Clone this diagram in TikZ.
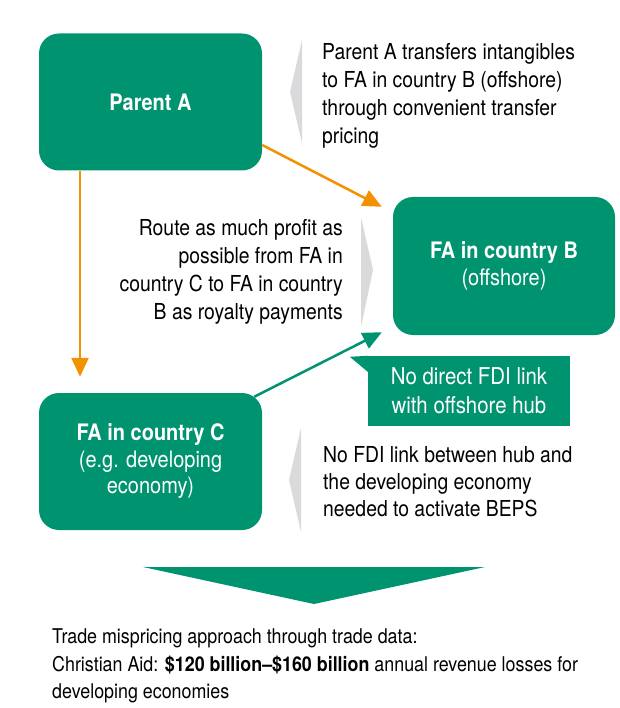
\documentclass[tikz,border=0pt]{standalone}
\usepackage{fontspec}
\setmainfont[FakeStretch=0.88]{TeX Gyre Heros}
\usetikzlibrary{arrows.meta}
\definecolor{fagreen}{RGB}{0,147,111}
\definecolor{faorange}{RGB}{243,146,0}
\definecolor{fagrey}{RGB}{218,218,220}
\begin{document}
\begin{tikzpicture}[x=1pt,y=-1pt,
  box/.style={fill=fagreen, rounded corners=20pt, text=white, align=center,
    inner sep=0pt, minimum width=223pt, minimum height=137pt,
    font=\fontsize{22.7}{26.5}\selectfont},
  callout/.style={fill=fagreen, text=white, align=center, inner sep=0pt,
    minimum width=202pt, minimum height=70pt,
    font=\fontsize{23.2}{29}\selectfont},
  txt/.style={inner sep=0pt, font=\fontsize{22}{28}\selectfont},
  bottomtxt/.style={inner sep=0pt, align=left, font=\fontsize{20.3}{27.5}\selectfont},
  orangearrow/.style={draw=faorange, line width=2.5pt,
    -{Triangle[length=19pt,width=17pt]}},
  greenarrow/.style={draw=fagreen, line width=2.5pt,
    -{Triangle[length=19pt,width=17pt]}},
  greytri/.style={fill=fagrey}]
\useasboundingbox (0,0) rectangle (619,708);

% boxes
\node[box] (pa) at (150.5,102) {\bfseries Parent A};
\node[box, minimum width=222pt, minimum height=138pt] (fab) at (504,266)
  {\bfseries FA in country B\\(offshore)};
\node[box] (fac) at (150.5,461.5)
  {\bfseries FA in country C\\(e.g. developing\\economy)};

% callout
\node[callout] (cb) at (469,391) {No direct FDI link\\with offshore hub};
\fill[fagreen] (cb.north west) -- ++(-18,1) -- ([yshift=-16pt]cb.north west) -- cycle;

% grey pointers
\fill[greytri] (302,40) -- (290,92) -- (302,143) -- cycle;
\fill[greytri] (361,217) -- (373,270) -- (361,327) -- cycle;
\fill[greytri] (301,428) -- (289,480) -- (301,532) -- cycle;

% texts
\node[txt, anchor=north west, align=left] (t1) at (322,43)
  {Parent A transfers intangibles\\to FA in country B (offshore)\\through convenient transfer\\pricing};
\node[txt, anchor=north east, align=right] (t2) at (343,219)
  {Route as much profit as\\possible from FA in\\country C to FA in country\\B as royalty payments};
\node[txt, anchor=north west, align=left, font=\fontsize{22}{27.3}\selectfont] (t3) at (323,446)
  {No FDI link between hub and\\the developing economy\\needed to activate BEPS};

% arrows
\draw[orangearrow] ([yshift=-43pt]pa.east) -- ([xshift=-11pt,yshift=-10pt]fab.north west);
\draw[orangearrow] ([xshift=-70.5pt]pa.south) -- ([xshift=-70.5pt,yshift=16pt]fac.north);
\draw[greenarrow] ([xshift=-8pt,yshift=-4pt]fac.north east) -- ([xshift=-11pt,yshift=3pt]fab.south west);

% big down triangle
\fill[fagreen] (143,567) coordinate (bl) -- (485,567) coordinate (br) -- (314,604) coordinate (bt) -- cycle;

% bottom text
\node[bottomtxt, anchor=north west] (bot) at (52,628.5)
  {Trade mispricing approach through trade data:\\Christian Aid: \textbf{\$120 billion–\$160 billion} annual revenue losses for\\developing economies};
\end{tikzpicture}
\end{document}
